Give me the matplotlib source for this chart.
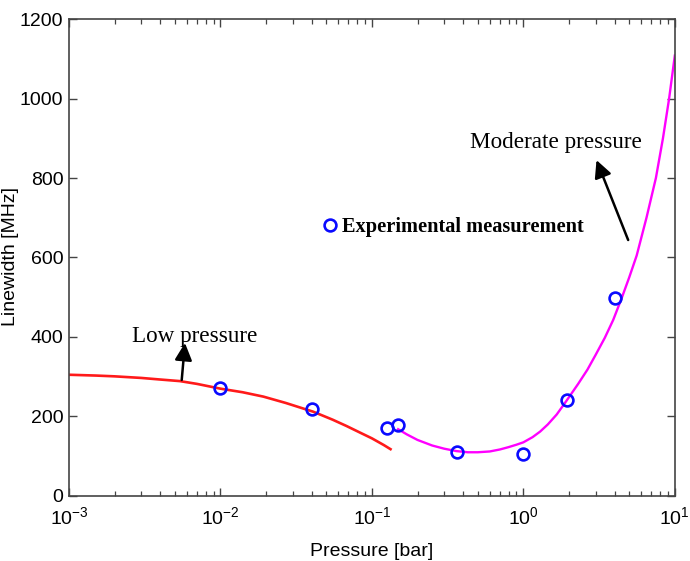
import matplotlib
matplotlib.use("Agg")
import matplotlib.pyplot as plt

# ---- data ----
low_p = [0.001, 0.0015, 0.002, 0.003, 0.004, 0.0054, 0.007, 0.01, 0.014, 0.0192,
         0.027, 0.041, 0.055, 0.068, 0.085, 0.1, 0.12, 0.135]
low_w = [305, 303, 301, 297, 293, 289, 282, 270, 261, 250,
         234, 212, 192, 176, 158, 145, 128, 116]

mod_p = [0.149, 0.17, 0.2, 0.25, 0.3, 0.36, 0.43, 0.5, 0.6, 0.7, 0.8, 0.9, 1.0,
         1.15, 1.29, 1.45, 1.66, 1.93, 2.3, 2.65, 3.0, 3.45, 3.92, 4.45, 5.0,
         5.6, 6.5, 7.5, 8.35, 9.17, 10.0]
mod_w = [168, 155, 141, 127, 119, 113, 110, 110, 112, 117, 123, 129, 135,
         148, 162, 180, 205, 240, 282, 318, 355, 398, 443, 497, 550,
         605, 700, 800, 900, 1000, 1108]

exp_p = [0.01, 0.040, 0.125, 0.148, 0.362, 1.0, 1.93, 4.05]
exp_w = [271, 220, 170, 179, 110, 106, 241, 497]

legend_p = [0.0527]
legend_w = [682]

y_ticks = [0, 200, 400, 600, 800, 1000, 1200]

plt.rcParams['font.family'] = ['Liberation Sans', 'DejaVu Sans']
plt.rcParams['axes.unicode_minus'] = False

fig = plt.figure(figsize=(6.9, 5.61), dpi=100)
ax = fig.add_axes([0.1, 0.1159, 0.878, 0.8502])

ax.plot(low_p, low_w, color='#ff1a1a', lw=1.9, solid_capstyle='butt')
ax.plot(mod_p, mod_w, color='#ff00ff', lw=1.7)
ax.plot(exp_p, exp_w, linestyle='none', marker='o', ms=8.5, mfc='none',
        mec='#0a0aff', mew=1.9)
ax.plot(legend_p, legend_w, linestyle='none', marker='o', ms=8.5, mfc='none',
        mec='#0a0aff', mew=1.9)

ax.set_xscale('log')
ax.set_xlim(1e-3, 1e1)
ax.set_ylim(0, 1200)
ax.set_yticks(y_ticks)

ax.set_xlabel('Pressure [bar]', fontsize=14, labelpad=11)
ax.set_ylabel('Linewidth [MHz]', fontsize=14)
ax.yaxis.set_label_coords(-0.0825, 0.502)

for s in ax.spines.values():
    s.set_color('#444444')
    s.set_linewidth(1.2)

ax.tick_params(which='both', direction='in', top=True, right=True,
               colors='#444444', labelcolor='black')
ax.tick_params(which='major', length=6, width=1.0, labelsize=14)
ax.tick_params(which='minor', length=3.5, width=0.9)
ax.tick_params(axis='x', which='major', pad=7)
ax.tick_params(axis='y', which='major', pad=4)
ax.yaxis.set_minor_locator(matplotlib.ticker.NullLocator())

serif = ['Liberation Serif', 'DejaVu Serif']
ax.text(0.063, 665, 'Experimental measurement', family=serif, fontsize=14.7,
        fontweight='bold', va='baseline', ha='left')

ax.annotate('', xy=(0.00583, 385), xytext=(0.00555, 292),
            arrowprops=dict(arrowstyle='-|>', color='black', lw=1.8,
                            mutation_scale=26, shrinkA=0, shrinkB=0))
ax.text(0.0026, 388, 'Low pressure', family=serif, fontsize=16.7,
        va='baseline', ha='left')

ax.annotate('', xy=(3.04, 845), xytext=(4.92, 644),
            arrowprops=dict(arrowstyle='-|>', color='black', lw=1.8,
                            mutation_scale=26, shrinkA=0, shrinkB=0))
ax.text(0.444, 875, 'Moderate pressure', family=serif, fontsize=16.7,
        va='baseline', ha='left')

fig.savefig('out.png', dpi=100)
